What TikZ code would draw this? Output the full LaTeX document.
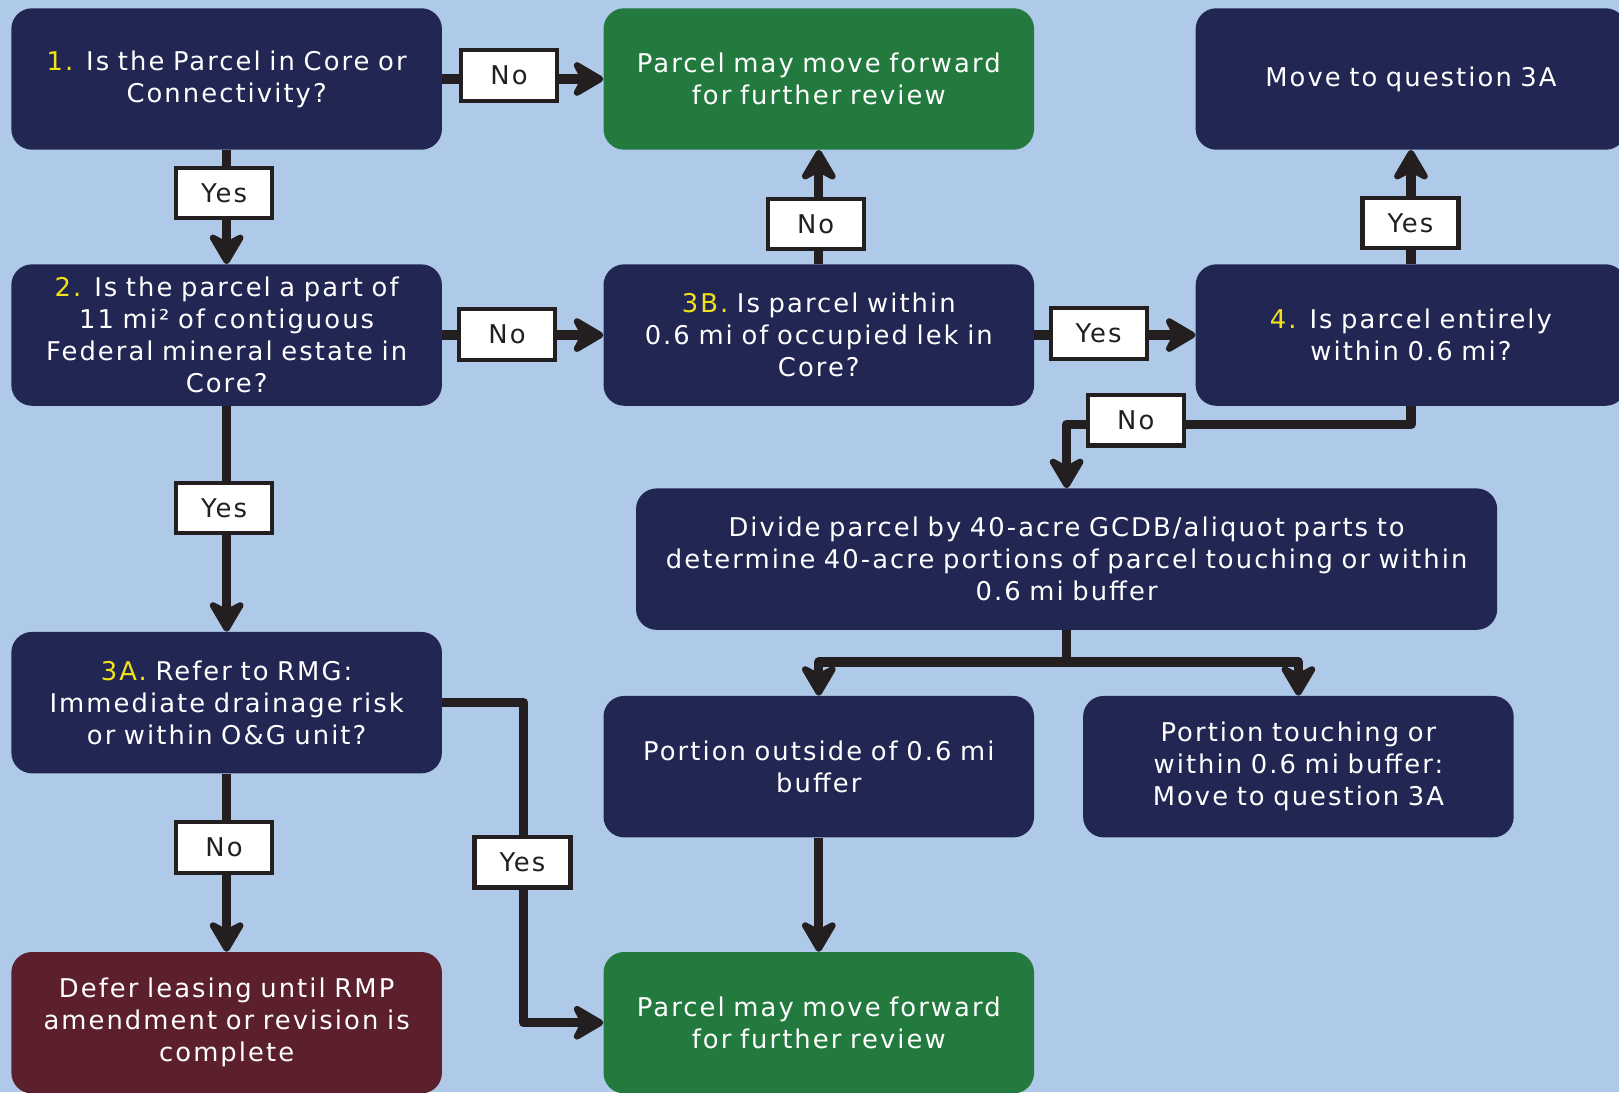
\documentclass[tikz,border=0pt]{standalone}
\usepackage{fontspec}
\setmainfont[LetterSpace=8]{DejaVu Sans}
\usetikzlibrary{arrows.meta}
\definecolor{bgc}{HTML}{AFCAE8}
\definecolor{navyc}{HTML}{222652}
\definecolor{greenc}{HTML}{237A3E}
\definecolor{maroonc}{HTML}{5C202D}
\definecolor{yelc}{HTML}{F2E21A}
\definecolor{arrowc}{HTML}{231F20}
\newcommand{\num}[1]{\textcolor{yelc}{#1}}
\begin{document}
\begin{tikzpicture}[x=1pt,y=-1pt,
  box/.style={rounded corners=20pt, minimum width=417pt, minimum height=137pt,
    text=white, align=center, text width=410pt, inner sep=0pt,
    font=\fontsize{25}{31}\selectfont},
  navybox/.style={box, fill=navyc},
  greenbox/.style={box, fill=greenc},
  maroonbox/.style={box, fill=maroonc},
  conn/.style={draw=arrowc, line width=9pt, line join=round,
    -{Stealth[length=36pt,width=42pt,inset=11pt,round]}},
  lbl/.style={draw=arrowc, fill=white, line width=4pt, minimum width=93pt,
    minimum height=49pt, inner sep=0pt, text=arrowc,
    font=\fontsize{25}{28}\selectfont}]
\useasboundingbox[fill=bgc] (0,0) rectangle (1568,1058);

% boxes
\node[navybox] (b1) at (219.5,76.5) {\num{1.} Is the Parcel in Core or\\Connectivity?};
\node[greenbox] (g1) at (793,76.5) {Parcel may move forward\\for further review};
\node[navybox] (m3a) at (1366.5,76.5) {Move to question 3A};
\node[navybox] (b2) at (219.5,324.5) {\num{2.} Is the parcel a part of\\11 mi² of contiguous\\Federal mineral estate in\\Core?};
\node[navybox] (b3b) at (793,324.5) {\num{3B.} Is parcel within\\0.6 mi of occupied lek in\\Core?};
\node[navybox] (b4) at (1366.5,324.5) {\num{4.} Is parcel entirely\\within 0.6 mi?};
\node[navybox, minimum width=834pt, text width=820pt] (div) at (1033,541.5) {Divide parcel by 40-acre GCDB/aliquot parts to\\determine 40-acre portions of parcel touching or within\\0.6 mi buffer};
\node[navybox] (b3a) at (219.5,680.5) {\num{3A.} Refer to RMG:\\Immediate drainage risk\\or within O\&G unit?};
\node[navybox] (po) at (793,742.5) {Portion outside of 0.6 mi\\buffer};
\node[navybox] (pt) at (1257.5,742.5) {Portion touching or\\within 0.6 mi buffer:\\Move to question 3A};
\node[maroonbox] (def) at (219.5,990.5) {Defer leasing until RMP\\amendment or revision is\\complete};
\node[greenbox] (g2) at (793,990.5) {Parcel may move forward\\for further review};

% connectors
\draw[conn] (b1) -- (g1);
\draw[conn] (b1) -- (b2);
\draw[conn] (b2) -- (b3b);
\draw[conn] (b2) -- (b3a);
\draw[conn] (b3b) -- (g1);
\draw[conn] (b3b) -- (b4);
\draw[conn] (b4) -- (m3a);
\draw[conn] (b4.south) -- ++(0,18) -| (div.north);
\draw[conn] (div.south) -- ++(0,31) -| (po.north);
\draw[conn] (div.south) -- ++(0,31) -| (pt.north);
\draw[conn] (b3a) -- (def);
\draw[conn] (b3a.east) -- ++(79,0) |- (g2.west);
\draw[conn] (po) -- (g2);

% labels
\node[lbl] (l1) at (493,73) {No};
\node[lbl] (l2) at (217,187) {Yes};
\node[lbl] (l3) at (491,324) {No};
\node[lbl] (l4) at (217,492) {Yes};
\node[lbl] (l5) at (790,217) {No};
\node[lbl] (l6) at (1064,323) {Yes};
\node[lbl] (l7) at (1366,216) {Yes};
\node[lbl] (l8) at (1100,407) {No};
\node[lbl] (l9) at (217,821) {No};
\node[lbl] (l10) at (506,835) {Yes};
\end{tikzpicture}
\end{document}
